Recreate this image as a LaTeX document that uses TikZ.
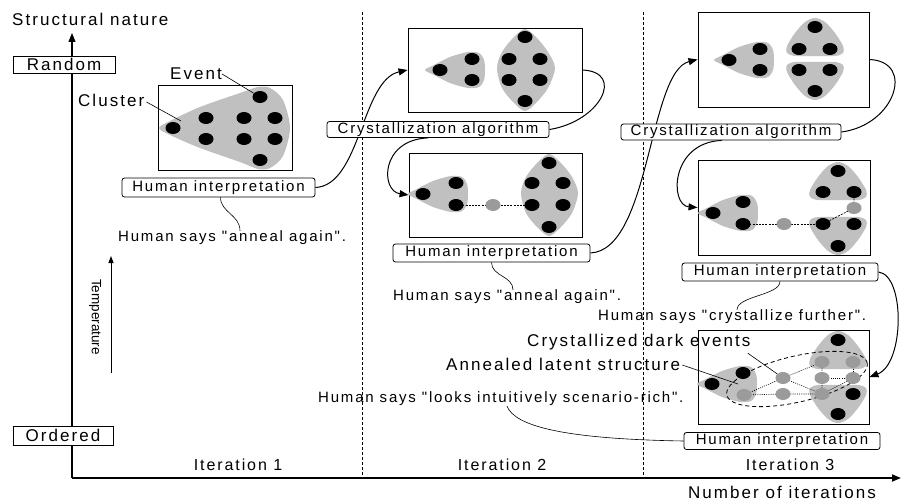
\documentclass[tikz,border=0pt]{standalone}
\usepackage{fontspec}
\setmainfont{Liberation Sans}[LetterSpace=12,Ligatures=TeXOff]
\usetikzlibrary{arrows.meta,shapes.geometric,calc}
\pgfdeclarelayer{background}
\pgfsetlayers{background,main}
\definecolor{clgray}{RGB}{192,192,192}
\definecolor{dgray}{RGB}{155,155,155}
\newcommand{\myfs}[1]{\fontsize{#1}{#1}\selectfont}
% left-pointing cluster, argument = tip dot
\newcommand{\cltri}[2]{%
 \fill[clgray] plot[smooth cycle,tension=0.5] coordinates {(#1-15,#2) (#1-6,#2-5) (#1+10,#2-13) (#1+28,#2-18) (#1+39,#2-17) (#1+44,#2-10) (#1+45,#2) (#1+44,#2+10) (#1+39,#2+17) (#1+28,#2+18) (#1+10,#2+13) (#1-6,#2+5)};}
% upward cluster, argument = apex dot
\newcommand{\clup}[2]{%
 \fill[clgray] plot[smooth cycle,tension=0.5] coordinates {(#1,#2-9) (#1+10,#2-5) (#1+20,#2+6) (#1+28,#2+19) (#1+28,#2+26) (#1+20,#2+29) (#1,#2+29) (#1-20,#2+29) (#1-28,#2+26) (#1-28,#2+19) (#1-20,#2+6) (#1-10,#2-5)};}
% downward cluster, argument = bottom dot
\newcommand{\cldn}[2]{%
 \fill[clgray] plot[smooth cycle,tension=0.5] coordinates {(#1,#2+9) (#1+10,#2+5) (#1+20,#2-6) (#1+28,#2-19) (#1+28,#2-26) (#1+20,#2-29) (#1,#2-29) (#1-20,#2-29) (#1-28,#2-26) (#1-28,#2-19) (#1-20,#2-6) (#1-10,#2+5)};}
\tikzset{
 ev/.style={ellipse, fill=black, minimum width=15pt, minimum height=12pt, inner sep=0},
 gv/.style={ellipse, fill=dgray, minimum width=15pt, minimum height=12pt, inner sep=0},
 frame/.style={draw, line width=0.9pt, fill=white, inner sep=0},
 tag/.style={draw, line width=0.8pt, fill=white, rounded corners=2.5pt, inner sep=0, font=\myfs{15}},
 sqtag/.style={draw, line width=0.8pt, fill=white, inner sep=0, font=\myfs{17}},
 txt/.style={inner sep=0, font=\myfs{15}},
 btxt/.style={inner sep=0, font=\myfs{17}},
 flow/.style={line width=1pt, -{Triangle[length=9pt,width=7pt]}},
 link/.style={line width=1pt},
 lead/.style={line width=0.6pt},
 sep/.style={line width=0.8pt, dash pattern=on 3pt off 2pt},
 dline/.style={line width=0.7pt, dash pattern=on 2pt off 1.2pt},
 dotl/.style={line width=0.6pt, dash pattern=on 1pt off 1.2pt}
}
\begin{document}
\begin{tikzpicture}[x=1pt,y=-1pt]
\useasboundingbox (0,0) rectangle (901,503);

% ---- axes
\coordinate (O) at (72,478);
\coordinate (Ytop) at (72,33);
\coordinate (Xend) at (901,478);
\draw[line width=1.2pt, -{Triangle[length=9pt,width=7pt]}] (O) -- (Ytop);
\draw[line width=1.7pt, -{Triangle[length=9pt,width=7pt]}] (O) -- (Xend);
\node[btxt, anchor=west] (ytitle) at (12,19) {Structural nature};
\node[sqtag, minimum width=102pt, minimum height=17pt] (rand) at (64,64.5) {Random};
\node[sqtag, minimum width=100pt, minimum height=19pt] (ord) at (63,435.5) {Ordered};
\coordinate (Tlo) at (111,373);
\coordinate (Thi) at (111,256);
\draw[line width=0.9pt, -{Triangle[length=7pt,width=5pt]}] (Tlo) -- (Thi);
\node[inner sep=0, rotate=-90, font=\myfs{13.5}\addfontfeatures{LetterSpace=0}] (temp) at (95,317) {Temperature};
\node[inner sep=0, font=\myfs{16}] (it1) at (238,465) {Iteration 1};
\node[inner sep=0, font=\myfs{16}] (it2) at (502,465) {Iteration 2};
\node[inner sep=0, font=\myfs{16}] (it3) at (790,465) {Iteration 3};
\node[btxt] (nit) at (782,492) {Number of iterations};
\coordinate (s1t) at (362,12); \coordinate (s1b) at (362,478);
\coordinate (s2t) at (643,12); \coordinate (s2b) at (643,478);

% ---- frames
\node[frame, minimum width=134pt, minimum height=85pt] (B1) at (225,127.5) {};
\node[frame, minimum width=174pt, minimum height=84pt] (B2a) at (495,70) {};
\node[frame, minimum width=173pt, minimum height=84pt] (B2b) at (495.5,195) {};
\node[frame, minimum width=171pt, minimum height=95pt] (B3a) at (783.5,59.5) {};
\node[frame, minimum width=172pt, minimum height=95pt] (B4) at (784,207.5) {};
\node[frame, minimum width=171pt, minimum height=94pt] (B5) at (783.5,377) {};

% ---- clusters
\fill[clgray] plot[smooth cycle,tension=0.5] coordinates {(159,128) (170,121) (200,107) (240,93) (258,87) (270,88) (283,100) (290,128) (283,156) (270,168) (258,169) (240,162) (200,148) (170,135)};
\cltri{440}{70}
\fill[clgray] plot[smooth cycle,tension=0.5] coordinates {(525,29) (536,37) (548,52) (555,68) (548,88) (536,103) (525,111) (514,103) (502,88) (497,68) (502,52) (514,37)};
\cltri{423}{194}
\fill[clgray] plot[smooth cycle,tension=0.5] coordinates {(549,154) (560,162) (572,177) (578,193) (572,213) (560,228) (549,236) (538,228) (526,213) (521,193) (526,177) (538,162)};
\cltri{729}{60}
\clup{815}{27}
\cldn{815}{91}
\cltri{713}{213}
\clup{838}{171}
\cldn{838}{246}
\cltri{712}{384}
\clup{838}{340}
\cldn{838}{414}

% ---- iteration 1 events
\node[ev] (e1) at (260,97) {};
\node[ev] (e2) at (206,118) {};
\node[ev] (e3) at (244,118) {};
\node[ev] (e4) at (275,118) {};
\node[ev] (e5) at (173,128) {};
\node[ev] (e6) at (206,139) {};
\node[ev] (e7) at (244,139) {};
\node[ev] (e8) at (275,139) {};
\node[ev] (e9) at (260,160) {};
\coordinate (clpt) at (181,121);

% ---- iteration 2 top
\node[ev] (f1) at (440,70) {};
\node[ev] (f2) at (472,59) {};
\node[ev] (f3) at (472,80) {};
\node[ev] (f4) at (525,37) {};
\node[ev] (f5) at (509,59) {};
\node[ev] (f6) at (540,59) {};
\node[ev] (f7) at (509,80) {};
\node[ev] (f8) at (540,80) {};
\node[ev] (f9) at (525,101) {};

% ---- iteration 2 bottom
\draw[dline] (456,205) -- (532,205);
\node[ev] (g1) at (423,194) {};
\node[ev] (g2) at (456,183) {};
\node[ev] (g3) at (456,205) {};
\node[gv] (gm) at (493,205) {};
\node[ev] (g4) at (549,163) {};
\node[ev] (g5) at (532,183) {};
\node[ev] (g6) at (563,183) {};
\node[ev] (g7) at (532,205) {};
\node[ev] (g8) at (563,205) {};
\node[ev] (g9) at (549,227) {};

% ---- iteration 3 top
\node[ev] (h1) at (729,60) {};
\node[ev] (h2) at (760,49) {};
\node[ev] (h3) at (760,70) {};
\node[ev] (h4) at (815,27) {};
\node[ev] (h5) at (799,49) {};
\node[ev] (h6) at (830,49) {};
\node[ev] (h7) at (799,70) {};
\node[ev] (h8) at (830,70) {};
\node[ev] (h9) at (815,91) {};

% ---- iteration 3 middle
\draw[dline] (743,224) -- (823,224);
\draw[dline] (854,192) -- (854,208) -- (823,224);
\node[ev] (k1) at (713,213) {};
\node[ev] (k2) at (743,202) {};
\node[ev] (k3) at (743,224) {};
\node[gv] (km) at (784,224) {};
\node[ev] (k4) at (838,171) {};
\node[ev] (k5) at (823,192) {};
\node[ev] (k6) at (854,192) {};
\node[gv] (kg) at (854,208) {};
\node[ev] (k7) at (823,224) {};
\node[ev] (k8) at (854,224) {};
\node[ev] (k9) at (838,246) {};

% ---- iteration 3 bottom
\draw[dotl] (744,395) -- (783,378) -- (822,362) -- (822,378) -- (822,394) -- (783,394) -- (744,395);
\draw[dotl] (783,378) -- (822,394);
\draw[dotl] (853,362) -- (853,378) -- (822,378);
\draw[dotl] (853,378) -- (822,394);
\draw[dashed, dash pattern=on 4pt off 3pt, line width=0.8pt] plot[domain=0:360, samples=90, variable=\t] ({797+72*cos(\t)*cos(13)+23*sin(\t)*sin(13)}, {379-72*cos(\t)*sin(13)+23*sin(\t)*cos(13)}) -- cycle;
\node[ev] (m1) at (712,384) {};
\node[ev] (m2) at (743,373) {};
\node[gv] (m3) at (744,395) {};
\node[gv] (m4) at (783,378) {};
\node[gv] (m5) at (783,394) {};
\node[ev] (m6) at (838,340) {};
\node[gv] (m7) at (822,362) {};
\node[gv] (m8) at (853,362) {};
\node[gv] (m9) at (822,378) {};
\node[gv] (m10) at (853,378) {};
\node[gv] (m11) at (822,394) {};
\node[ev] (m12) at (853,394) {};
\node[ev] (m13) at (838,414) {};
\coordinate (alsend) at (738,384);

% ---- labels
\node[btxt, anchor=west] (Event) at (170,74) {Event};
\node[btxt, anchor=west] (Cluster) at (78,100) {Cluster};
\draw[lead] (Event.east) -- (e1);
\draw[lead] ($(Cluster.east)+(2,2)$) -- (clpt);
\node[btxt, anchor=west] (CDE) at (527,342) {Crystallized dark events};
\node[btxt, anchor=west] (ALS) at (446,364) {Annealed latent structure};
\draw[lead] ($(CDE.south east)+(-3,3)$) -- (m4);
\draw[lead] ($(ALS.east)+(2,1)$) -- (alsend);

% ---- tags
\node[tag, minimum width=193pt, minimum height=19pt] (HI1) at (218.5,187.5) {Human interpretation};
\node[tag, minimum width=222pt, minimum height=16pt] (CA1) at (438,129.5) {Crystallization algorithm};
\node[tag, minimum width=197pt, minimum height=18pt] (HI2) at (491.5,253) {Human interpretation};
\node[tag, minimum width=220pt, minimum height=16pt] (CA2) at (731,132) {Crystallization algorithm};
\node[tag, minimum width=196pt, minimum height=18pt] (HI3) at (780,272) {Human interpretation};
\node[tag, minimum width=196pt, minimum height=17pt] (HI4) at (782,441) {Human interpretation};

\node[txt, anchor=west] (HS1) at (118,238) {Human says "anneal again".};
\node[txt, anchor=west] (HS2) at (393,297) {Human says "anneal again".};
\node[txt, anchor=west] (HS3) at (598,317) {Human says "crystallize further".};
\node[txt, anchor=west] (HS4) at (318,399) {Human says "looks intuitively scenario-rich".};

% ---- connectors behind
\begin{pgfonlayer}{background}
\draw[sep] (s1t) -- (s1b);
\draw[sep] (s2t) -- (s2b);
\draw[flow] (HI1.east) .. controls +(45,-2) and +(-46,10) .. (B2a.west);
\draw[link] (B2a.east) .. controls +(43,2) and +(51,-8) .. (CA1.east);
\draw[flow] ($(CA1.south)+(-10,0)$) .. controls +(-48,2) and +(-28,-4) .. (B2b.west);
\draw[flow] (HI2.east) .. controls +(60,-3) and +(-49,12) .. (B3a.west);
\draw[link] (B3a.east) .. controls +(46,2) and +(54,-7) .. (CA2.east);
\draw[flow] ($(CA2.south)+(-9,0)$) .. controls +(-52,2) and +(-28,-2) .. (B4.west);
\draw[flow] (HI3.east) .. controls +(27,3) and +(35,-13) .. (B5.east);
\draw[lead] ($(HI1.south)+(2,0)$) .. controls +(0,15) and +(0,-16) .. ($(HS1.north west)+(122,0)$);
\draw[lead] (HI2.south) .. controls +(0,14) and +(0,-14) .. ($(HS2.north west)+(120,0)$);
\draw[lead] (HI3.south) .. controls +(0,14) and +(0,-14) .. ($(HS3.north west)+(139,0)$);
\draw[lead] ($(HS4.south west)+(189,0)$) .. controls +(8,20) and +(-120,-2) .. (HI4.west);
\end{pgfonlayer}
\end{tikzpicture}
\end{document}
